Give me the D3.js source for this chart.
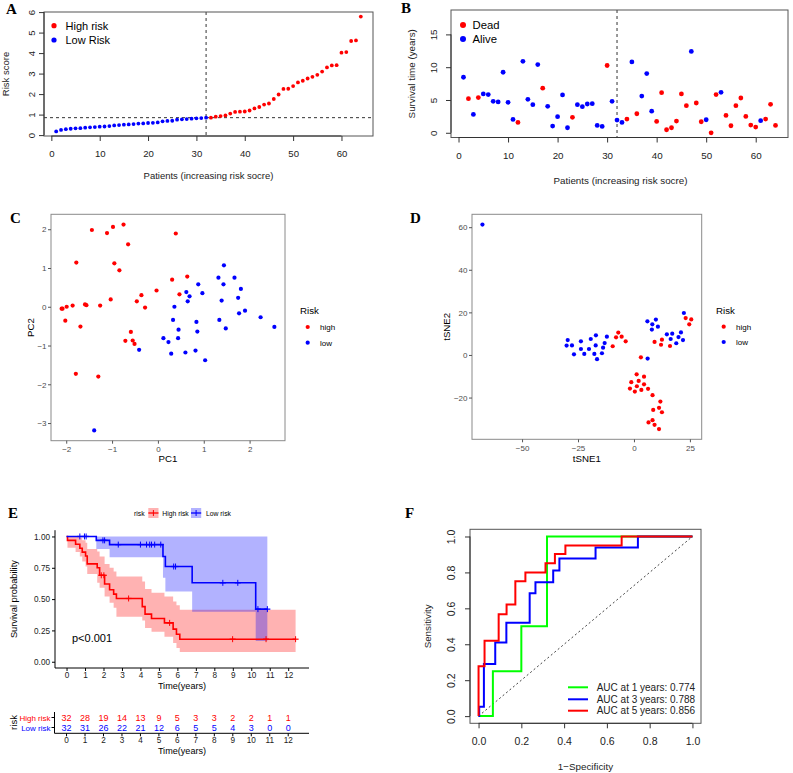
<!DOCTYPE html>
<html><head><meta charset="utf-8">
<script src="https://cdn.jsdelivr.net/npm/d3@7"></script>
<style>body{margin:0;background:#fff} svg{display:block}</style>
</head><body><svg id="c" width="793" height="773"></svg>
<script>
const SANS = "'Liberation Sans', Arial, Helvetica, sans-serif";
const SERIF = "'Liberation Serif', 'Times New Roman', serif";
const RED = "#FF0000", BLUE = "#0000FF", GREEN = "#00FF00";

// ---------- Panel A: risk score ----------
const riskScore = [0.18,0.25,0.29,0.31,0.33,0.34,0.36,0.38,0.39,0.41,0.42,0.44,0.47,0.49,0.51,0.52,
  0.54,0.56,0.57,0.59,0.60,0.62,0.67,0.69,0.70,0.75,0.77,0.78,0.80,0.82,0.83,0.85,
  0.85,0.90,0.93,0.96,1.05,1.13,1.14,1.15,1.20,1.30,1.37,1.49,1.54,1.76,1.98,2.25,
  2.26,2.39,2.57,2.65,2.76,2.84,2.94,3.10,3.30,3.40,3.41,4.02,4.05,4.59,4.62,5.78];
const riskCutoff = 0.85;
const splitIndex = 32;
const ticksA_x = [0,10,20,30,40,50,60];
const ticksA_y = [0,1,2,3,4,5,6];
const legendA = ["High risk","Low Risk"];

// ---------- Panel B: survival status ----------
const survTime = [8.47,5.2,2.8,5.36,5.92,5.82,4.8,4.7,9.23,4.64,2.04,1.58,10.9,5.1,4.29,10.4,
  6.8,4.03,1.02,2.45,5.77,0.77,2.35,4.29,3.98,4.39,4.44,1.12,0.97,10.26,4.8,1.94,
  1.58,2.09,10.8,2.9,5.6,9.03,3.3,1.73,6.12,0.46,0.77,1.79,5.92,4.13,12.4,4.54,
  1.68,1.99,0.0,5.82,6.17,2.65,1.07,4.13,5.3,2.5,1.17,0.87,1.84,2.09,4.34,1.12];
const survDead = [0,1,0,1,0,0,0,0,0,0,0,1,0,0,0,0, 1,0,0,0,0,0,1,0,0,0,0,0,0,1,0,0,
  0,1,0,1,0,0,0,1,1,1,1,1,1,1,0,1, 1,0,1,1,0,1,1,1,1,1,1,1,0,1,1,1];
const ticksB_y = [0,5,10,15];
const legendB = ["Dead","Alive"];

// ---------- Panel C: PCA ----------
const pc1High = [-2.10,-2.08,-1.99,-2.02,-1.86,-1.78,-1.69,-1.59,-1.56,-1.79,-1.30,-1.44,-1.26,-1.11,-1.03,-0.98,
  -0.95,-0.84,-0.75,-0.65,-0.71,-0.59,-0.55,-0.51,-0.46,-0.36,-0.28,-0.03,0.31,0.39,0.47,0.64];
const pc2High = [-0.05,-0.05,0.0,-0.36,0.03,1.14,-0.51,0.06,0.04,-1.73,-1.80,1.98,0.03,1.90,0.19,2.06,
  1.12,0.94,2.12,1.61,-0.88,-0.65,-0.87,-0.96,0.14,0.30,-0.02,0.42,0.70,1.89,0.32,0.78];
const pc1Low = [-1.39,-0.41,0.12,0.23,0.29,0.33,0.36,0.44,0.45,0.60,0.62,0.65,0.69,0.82,0.84,0.86,
  0.88,0.97,1.03,1.32,1.34,1.39,1.43,1.44,1.48,1.67,1.75,1.77,1.81,1.90,2.24,2.54];
const pc2Low = [-3.19,-1.11,-0.81,-0.91,-1.21,-0.34,0.0,-0.81,-0.59,-1.18,0.38,0.14,0.27,-1.13,-0.39,-0.64,
  0.58,0.35,-1.38,0.75,-0.34,0.16,0.58,1.07,-0.56,0.75,0.23,-0.17,0.46,-0.10,-0.27,-0.52];
const ticksC_x = [-2,-1,0,1,2];
const ticksC_y = [-3,-2,-1,0,1,2];

// ---------- Panel D: tSNE ----------
const tsne1High = [-9.5,-8.0,-7.0,-5.5,-3.7,3.1,9.2,12.1,12.5,16.1,23.1,25.6,24.7,1.2,4.5,-1.2,
  2.1,-1.8,1.3,4.5,0.4,3.3,6.3,8.3,11.8,8.6,11.2,12.5,8.3,6.5,9.2,11.2];
const tsne2High = [4.1,8.3,10.5,8.6,6.4,-1.1,6.1,4.8,7.2,4.2,17.3,16.7,14.4,-9.1,-10.2,-12.8,
  -12.2,-15.8,-14.7,-13.8,-17.2,-16.4,-15.9,-18.9,-21.9,-25.8,-24.8,-26.9,-30.6,-31.7,-32.8,-34.8];
const tsne1Low = [-67.7,-29.6,-30.1,-27.7,-26.8,-23.7,-23.7,-22.2,-20.1,-19.3,-17.7,-17.1,-17.0,-16.5,-14.3,-13.8,
  -13.1,-12.1,6.0,6.1,8.0,8.2,9.8,10.7,14.7,16.4,17.1,18.9,19.9,21.0,21.9,22.3];
const tsne2Low = [61.25,7.0,4.4,4.5,0.3,6.4,2.8,0.5,2.8,7.5,0.5,4.5,9.2,-2.0,0.8,3.4,
  5.6,8.6,15.8,-1.7,11.9,14.4,16.6,13.3,9.7,7.5,10.0,5.5,8.4,10.6,7.0,19.7];
const ticksD_x = [-50,-25,0,25];
const ticksD_y = [-20,0,20,40,60];

// ---------- Panel E: Kaplan-Meier ----------
const kmHighTime  = [0,0.05,0.49,0.72,0.85,1.03,1.12,1.66,1.79,2.06,2.33,2.55,2.70,4.10,4.25,4.60,5.30,5.77,5.95,6.13];
const kmHighSurv  = [1,0.969,0.938,0.906,0.875,0.844,0.781,0.75,0.69,0.62,0.575,0.54,0.505,0.44,0.38,0.345,0.31,0.26,0.22,0.18];
const kmHighLower = [1,0.91,0.875,0.84,0.80,0.76,0.70,0.63,0.59,0.52,0.47,0.43,0.36,0.33,0.27,0.24,0.20,0.15,0.11,0.077];
const kmHighUpper = [1,1,1,0.99,0.97,0.95,0.90,0.88,0.84,0.78,0.75,0.72,0.68,0.64,0.58,0.55,0.52,0.48,0.45,0.415];
const kmHighEnd = 12.4;
const kmHighCensor = [1.88,2.02,3.36,5.58,8.99,10.8,12.4];
const kmLowTime  = [0,1.61,2.33,5.22,5.35,6.80,10.24];
const kmLowSurv  = [1,0.969,0.935,0.84,0.76,0.63,0.42];
const kmLowLower = [1,0.90,0.835,0.67,0.56,0.40,0.165];
const kmLowUpper = [1,1,1,1,1,1,1];
const kmLowEnd = 10.87;
const kmLowCensor = [0.72,0.97,1.06,1.97,2.06,2.8,4.0,4.33,4.5,4.6,4.77,5.1,5.8,5.9,8.46,9.27,10.36,10.87];
const tableTimes = [0,1,2,3,4,5,6,7,8,9,10,11,12];
const atRiskHigh = [32,28,19,14,13,9,5,3,3,2,2,1,1];
const atRiskLow  = [32,31,26,22,21,12,6,5,5,4,3,0,0];
const ticksE_y = [0,0.25,0.5,0.75,1];
const pValueText = "p<0.001";

// ---------- Panel F: time-dependent ROC ----------
const roc1Fpr = [0,0.067,0.2,0.32,1];
const roc1Tpr = [0,0.25,0.5,1,1];
const roc3Fpr = [0,0.003,0.025,0.078,0.13,0.239,0.266,0.349,0.378,0.547,0.745,1];
const roc3Tpr = [0,0.052,0.29,0.41,0.52,0.684,0.745,0.81,0.877,0.938,1,1];
const roc5Fpr = [0,0,0.028,0.094,0.131,0.172,0.219,0.313,0.357,0.406,0.669,1];
const roc5Tpr = [0,0.277,0.42,0.567,0.621,0.751,0.8,0.851,0.902,0.95,1,1];
const rocLabels = ["AUC at 1 years: 0.774","AUC at 3 years: 0.788","AUC at 5 years: 0.856"];
const ticksF = [0,0.2,0.4,0.6,0.8,1.0];

// =================== drawing ===================
const svg = d3.select('#c');
svg.append('rect').attr('width',793).attr('height',773).attr('fill','#fff');

function txt(g, x, y, s, o = {}) {
  const t = g.append('text').attr('x', x).attr('y', y).text(s)
    .attr('font-family', o.family || SANS).attr('font-size', o.size || 10)
    .attr('fill', o.fill || '#000').attr('text-anchor', o.anchor || 'start')
    .attr('font-weight', o.weight || 'normal');
  if (o.rotate) t.attr('transform', `rotate(-90,${x},${y})`);
  return t;
}
const ext = (arr, f) => { const [a, b] = d3.extent(arr); return [a - f * (b - a), b + f * (b - a)]; };

// base-R style axis (ticks outward, label offsets measured from box edge)
function rAxis(g, scale, vals, side, pos, o) {
  const tl = o.tickLen || 5;
  const ax = (side === 'bottom' ? d3.axisBottom(scale) : d3.axisLeft(scale))
    .tickValues(vals).tickSize(tl).tickSizeOuter(0).tickFormat(o.fmt || (d => d));
  const a = g.append('g').attr('transform', side === 'bottom' ? `translate(0,${pos})` : `translate(${pos},0)`).call(ax);
  a.select('.domain').remove();
  if (o.line) {
    const r0 = scale(vals[0]), r1 = scale(vals[vals.length - 1]);
    if (side === 'bottom') a.append('line').attr('x1', r0).attr('x2', r1).attr('stroke', o.color || '#333');
    else a.append('line').attr('y1', r0).attr('y2', r1).attr('stroke', o.color || '#333');
  }
  a.selectAll('.tick line').attr('stroke', o.color || '#333');
  const t = a.selectAll('.tick text').attr('font-family', SANS).attr('font-size', o.size)
    .attr('fill', o.textFill || '#222');
  if (side === 'bottom') {
    t.attr('y', o.lab).attr('dy', '0.35em');
  } else if (o.rotateLabels) {
    t.attr('x', 0).attr('y', 0).attr('dy', '0.35em').attr('text-anchor', 'middle')
      .attr('transform', `translate(${-o.lab},0) rotate(-90)`);
  } else {
    t.attr('x', -o.lab).attr('dy', '0.34em').attr('text-anchor', 'end');
  }
  return a;
}
function box(g, b, color, w) {
  g.append('rect').attr('x', b.l).attr('y', b.t).attr('width', b.r - b.l).attr('height', b.b - b.t)
    .attr('fill', 'none').attr('stroke', color).attr('stroke-width', w || 1);
}
function letter(s, x, y) { txt(svg, x, y, s, { family: SERIF, size: 15, weight: 'bold' }); }

// ---------------- A ----------------
{
  const g = svg.append('g');
  const B = { l: 44, r: 373, t: 12, b: 136 };
  const idx = d3.range(1, riskScore.length + 1);
  const x = d3.scaleLinear().domain(ext(idx, 0.04)).range([B.l, B.r]);
  const y = d3.scaleLinear().domain(ext(riskScore, 0.04)).range([B.b, B.t]);
  g.append('line').attr('x1', B.l).attr('x2', B.r).attr('y1', y(riskCutoff)).attr('y2', y(riskCutoff))
    .attr('stroke', '#333').attr('stroke-dasharray', '3,3');
  g.append('line').attr('x1', x(splitIndex)).attr('x2', x(splitIndex)).attr('y1', B.t).attr('y2', B.b)
    .attr('stroke', '#333').attr('stroke-dasharray', '3,3');
  g.selectAll('circle.p').data(riskScore).join('circle')
    .attr('cx', (d, i) => x(i + 1)).attr('cy', d => y(d)).attr('r', 1.9)
    .attr('fill', (d, i) => i + 1 > splitIndex ? RED : BLUE);
  box(g, B, '#555');
  rAxis(g, x, ticksA_x, 'bottom', B.b, { size: 9.6, lab: 18, line: true });
  rAxis(g, y, ticksA_y, 'left', B.l, { size: 9.6, lab: 12.5, rotateLabels: true, line: true });
  txt(g, (B.l + B.r) / 2, 179, 'Patients (increasing risk socre)', { size: 9.5, anchor: 'middle', fill: '#222' });
  txt(g, 8.5, (B.t + B.b) / 2, 'Risk score', { size: 9.5, anchor: 'middle', rotate: true, fill: '#222' });
  [RED, BLUE].forEach((c, i) => {
    g.append('circle').attr('cx', 54).attr('cy', 25.7 + i * 14.3).attr('r', 2.6).attr('fill', c);
    txt(g, 65.5, 25.7 + i * 14.3 + 4, legendA[i], { size: 11 });
  });
  letter('A', 6, 13.5);
}

// ---------------- B ----------------
{
  const g = svg.append('g');
  const B = { l: 451, r: 788, t: 10, b: 137.5 };
  const idx = d3.range(1, survTime.length + 1);
  const x = d3.scaleLinear().domain(ext(idx, 0.04)).range([B.l, B.r]);
  const y = d3.scaleLinear().domain([-0.72, 18.72]).range([B.b, B.t]);
  g.append('line').attr('x1', x(splitIndex)).attr('x2', x(splitIndex)).attr('y1', B.t).attr('y2', B.b)
    .attr('stroke', '#333').attr('stroke-dasharray', '3,3');
  g.selectAll('circle.p').data(survTime).join('circle')
    .attr('cx', (d, i) => x(i + 1)).attr('cy', d => y(d)).attr('r', 2.4)
    .attr('fill', (d, i) => survDead[i] ? RED : BLUE);
  box(g, B, '#555');
  rAxis(g, x, ticksA_x, 'bottom', B.b, { size: 9.8, lab: 17.7, line: true });
  rAxis(g, y, ticksB_y, 'left', B.l, { size: 9.8, lab: 17, rotateLabels: true, line: true });
  txt(g, (B.l + B.r) / 2 + 1, 183.5, 'Patients (increasing risk socre)', { size: 9.8, anchor: 'middle', fill: '#222' });
  txt(g, 414.5, (B.t + B.b) / 2, 'Survival time (years)', { size: 9.8, anchor: 'middle', rotate: true, fill: '#222' });
  [RED, BLUE].forEach((c, i) => {
    g.append('circle').attr('cx', 463).attr('cy', 25 + i * 14).attr('r', 3).attr('fill', c);
    txt(g, 472.5, 25 + i * 14 + 4, legendB[i], { size: 11.3 });
  });
  letter('B', 401, 12.5);
}

// ggplot scatter panel helper
function ggScatter(B, xs, ys, xt, yt, xTitle, yTitle, legendX, legendYs, titleX, titleY, yLabEnd) {
  const g = svg.append('g');
  const allX = xs[0].concat(xs[1]), allY = ys[0].concat(ys[1]);
  const x = d3.scaleLinear().domain(ext(allX, 0.05)).range([B.l, B.r]);
  const y = d3.scaleLinear().domain(ext(allY, 0.05)).range([B.b, B.t]);
  const fmt = d => d < 0 ? '\u2212' + Math.abs(d) : String(d);
  [RED, BLUE].forEach((c, k) => {
    g.selectAll(null).data(xs[k]).join('circle')
      .attr('cx', d => x(d)).attr('cy', (d, i) => y(ys[k][i])).attr('r', 2.1).attr('fill', c);
  });
  box(g, B, '#8a8a8a', 1);
  rAxis(g, x, xt, 'bottom', B.b, { size: 8, lab: 8.5, tickLen: 3, fmt, textFill: '#4d4d4d', color: '#555' });
  rAxis(g, y, yt, 'left', B.l, { size: 8, lab: yLabEnd, tickLen: 3, fmt, textFill: '#4d4d4d', color: '#555' });
  txt(g, (B.l + B.r) / 2, titleY, xTitle, { size: 9.7, anchor: 'middle' });
  txt(g, titleX, (B.t + B.b) / 2, yTitle, { size: 9.7, anchor: 'middle', rotate: true });
  txt(g, legendX, 314, 'Risk', { size: 9.7 });
  ['high', 'low'].forEach((s, i) => {
    g.append('circle').attr('cx', legendX + 7.7).attr('cy', legendYs[i]).attr('r', 2.1).attr('fill', i ? BLUE : RED);
    txt(g, legendX + 20, legendYs[i] + 3, s, { size: 8 });
  });
}
ggScatter({ l: 51, r: 285, t: 214.3, b: 440.7 }, [pc1High, pc1Low], [pc2High, pc2Low], ticksC_x, ticksC_y,
  'PC1', 'PC2', 300, [327, 342.7], 34, 461.5, 4.5);
letter('C', 10, 223);
ggScatter({ l: 472, r: 701.7, t: 214.3, b: 439.3 }, [tsne1High, tsne1Low], [tsne2High, tsne2Low], ticksD_x, ticksD_y,
  'tSNE1', 'tSNE2', 716, [326.7, 342], 450.5, 461.5, 4.5);
letter('D', 410, 223);

// ---------------- E ----------------
{
  const g = svg.append('g');
  const B = { l: 55, r: 309, t: 530.2, b: 668 };
  const x = d3.scaleLinear().domain([-0.625, 13.125]).range([B.l, B.r]);
  const y = d3.scaleLinear().domain([-0.05, 1.05]).range([B.b, B.t]);
  const series = [
    { t: kmHighTime, s: kmHighSurv, lo: kmHighLower, hi: kmHighUpper, end: kmHighEnd, cen: kmHighCensor, c: RED },
    { t: kmLowTime, s: kmLowSurv, lo: kmLowLower, hi: kmLowUpper, end: kmLowEnd, cen: kmLowCensor, c: BLUE }
  ];
  series.forEach(S => {
    const pts = S.t.map((t, i) => ({ t, s: S.s[i], lo: S.lo[i], hi: S.hi[i] }));
    const last = pts[pts.length - 1];
    pts.push({ t: S.end, s: last.s, lo: last.lo, hi: last.hi });
    S.pts = pts;
    g.append('path').datum(pts).attr('fill', S.c).attr('fill-opacity', 0.3)
      .attr('d', d3.area().curve(d3.curveStepAfter).x(d => x(d.t)).y0(d => y(d.lo)).y1(d => y(d.hi)));
  });
  series.forEach(S => {
    g.append('path').datum(S.pts).attr('fill', 'none').attr('stroke', S.c).attr('stroke-width', 1.6)
      .attr('d', d3.line().curve(d3.curveStepAfter).x(d => x(d.t)).y(d => y(d.s)));
    const stepAt = t => { let v = S.s[0]; S.t.forEach((tt, i) => { if (tt <= t) v = S.s[i]; }); return v; };
    S.cen.forEach(t => {
      const cx = x(t), cy = y(stepAt(t));
      g.append('line').attr('x1', cx).attr('x2', cx).attr('y1', cy - 3).attr('y2', cy + 3).attr('stroke', S.c).attr('stroke-width', 1);
      g.append('line').attr('x1', cx - 3).attr('x2', cx + 3).attr('y1', cy).attr('y2', cy).attr('stroke', S.c).attr('stroke-width', 1.2);
    });
  });
  g.append('line').attr('x1', B.l).attr('x2', B.l).attr('y1', B.t).attr('y2', B.b).attr('stroke', '#000');
  g.append('line').attr('x1', B.l).attr('x2', B.r).attr('y1', B.b).attr('y2', B.b).attr('stroke', '#000');
  rAxis(g, x, tableTimes, 'bottom', B.b, { size: 8.2, lab: 7.5, tickLen: 3, color: '#000', textFill: '#222' });
  rAxis(g, y, ticksE_y, 'left', B.l, { size: 8.2, lab: 5, tickLen: 3, fmt: d3.format('.2f'), color: '#000', textFill: '#222' });
  txt(g, 182, 688.5, 'Time(years)', { size: 9.1, anchor: 'middle' });
  txt(g, 17.5, (B.t + B.b) / 2, 'Survival probability', { size: 9.3, anchor: 'middle', rotate: true });
  txt(g, 72, 641.5, pValueText, { size: 11 });
  // legend
  txt(g, 134, 515.5, 'risk', { size: 6.8 });
  [[RED, 148.3, 'High risk', 162.3], [BLUE, 191, 'Low risk', 206]].forEach(([c, kx, lab, tx]) => {
    g.append('rect').attr('x', kx).attr('y', 508).attr('width', 10.2).attr('height', 10).attr('fill', c).attr('fill-opacity', 0.3);
    g.append('line').attr('x1', kx).attr('x2', kx + 10.2).attr('y1', 513).attr('y2', 513).attr('stroke', c).attr('stroke-width', 1.3);
    g.append('line').attr('x1', kx + 5.1).attr('x2', kx + 5.1).attr('y1', 510).attr('y2', 516).attr('stroke', c);
    txt(g, tx, 515.5, lab, { size: 6.8 });
  });
  // risk table
  const T = { l: 54.5, t: 712, b: 733.3 };
  g.append('line').attr('x1', T.l).attr('x2', T.l).attr('y1', T.t).attr('y2', T.b).attr('stroke', '#000');
  g.append('line').attr('x1', T.l).attr('x2', B.r).attr('y1', T.b).attr('y2', T.b).attr('stroke', '#000');
  [[atRiskHigh, RED, 'High risk', 717.5], [atRiskLow, BLUE, 'Low risk', 727.5]].forEach(([arr, c, lab, yy]) => {
    g.append('line').attr('x1', T.l - 3).attr('x2', T.l).attr('y1', yy).attr('y2', yy).attr('stroke', '#000');
    txt(g, T.l - 4, yy + 3, lab, { size: 8, anchor: 'end', fill: c });
    arr.forEach((n, i) => txt(g, x(tableTimes[i]), yy + 3.3, n, { size: 9, anchor: 'middle', fill: c }));
  });
  tableTimes.forEach(t => {
    g.append('line').attr('x1', x(t)).attr('x2', x(t)).attr('y1', T.b).attr('y2', T.b + 3).attr('stroke', '#000');
    txt(g, x(t), 743, t, { size: 8.2, anchor: 'middle', fill: '#222' });
  });
  txt(g, 182, 753.5, 'Time(years)', { size: 9.1, anchor: 'middle' });
  txt(g, 16.5, 722.5, 'risk', { size: 9.5, anchor: 'middle', rotate: true });
  letter('E', 8, 517.5);
}

// ---------------- F ----------------
{
  const g = svg.append('g');
  const B = { l: 470, r: 701, t: 529.3, b: 723.3 };
  const x = d3.scaleLinear().domain([-0.04, 1.04]).range([B.l, B.r]);
  const y = d3.scaleLinear().domain([-0.04, 1.04]).range([B.b, B.t]);
  g.append('line').attr('x1', x(0)).attr('y1', y(0)).attr('x2', x(1)).attr('y2', y(1))
    .attr('stroke', '#444').attr('stroke-dasharray', '2,2.5');
  const curves = [[roc1Fpr, roc1Tpr, GREEN], [roc3Fpr, roc3Tpr, BLUE], [roc5Fpr, roc5Tpr, RED]];
  curves.forEach(([fx, ty, c]) => {
    g.append('path').datum(fx.map((f, i) => [f, ty[i]])).attr('fill', 'none').attr('stroke', c).attr('stroke-width', 2)
      .attr('d', d3.line().curve(d3.curveStepAfter).x(d => x(d[0])).y(d => y(d[1])));
  });
  box(g, B, '#555');
  rAxis(g, x, ticksF, 'bottom', B.b, { size: 10.5, lab: 18.4, fmt: d3.format('.1f'), line: true });
  rAxis(g, y, ticksF, 'left', B.l, { size: 10.5, lab: 18.3, fmt: d3.format('.1f'), rotateLabels: true, line: true });
  txt(g, 585.5, 769.5, '1\u2212Specificity', { size: 9.8, anchor: 'middle', fill: '#222' });
  txt(g, 431.5, 626.3, 'Sensitivity', { size: 9.8, anchor: 'middle', rotate: true, fill: '#222' });
  [GREEN, BLUE, RED].forEach((c, i) => {
    const yy = [687.3, 699.3, 710.7][i];
    g.append('line').attr('x1', 568).attr('x2', 588).attr('y1', yy).attr('y2', yy).attr('stroke', c).attr('stroke-width', 2);
    txt(g, 596.7, yy + 3.6, rocLabels[i], { size: 10, fill: '#222' });
  });
  letter('F', 405, 518);
}
</script></body></html>
